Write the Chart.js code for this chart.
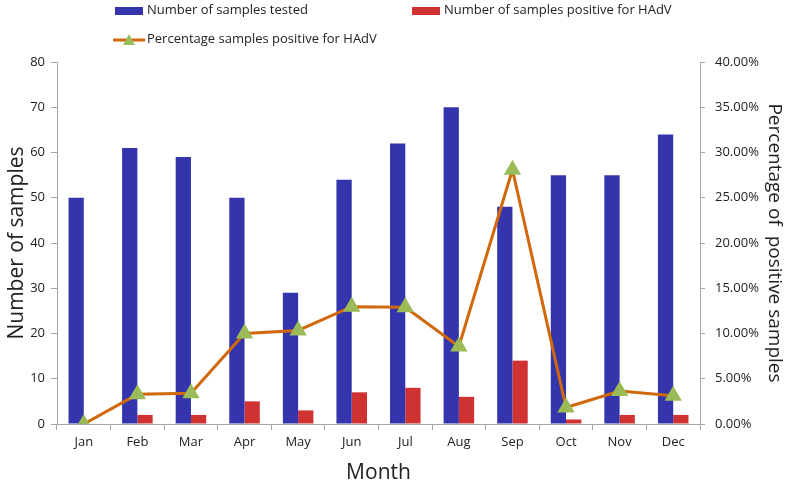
<!DOCTYPE html>
<html lang="en">
<head>
  <meta charset="UTF-8" />
  <title>HAdV samples by month</title>
  <script src="https://cdn.jsdelivr.net/npm/chart.js"></script>
  <style>
    body{margin:0;background:#fff;font-family:"Open Sans",sans-serif;}
    #wrap{position:relative;width:800px;height:490px;}
    .lg{position:absolute;font-size:13px;color:#222;white-space:nowrap;line-height:16px;}
    .sw{display:inline-block;width:28px;height:8px;vertical-align:middle;margin-right:4px;}
  </style>
</head>
<body>
<div id="wrap">
  <div class="lg" style="left:115px;top:1px"><span class="sw" style="background:#3434ad"></span>Number of samples tested</div>
  <div class="lg" style="left:412px;top:1px"><span class="sw" style="background:#d03232"></span>Number of samples positive for HAdV</div>
  <div class="lg" style="left:113px;top:30px">
    <svg width="32" height="14" style="vertical-align:middle;margin-right:2px"><line x1="0" y1="7" x2="32" y2="7" stroke="#d0680c" stroke-width="3"/><polygon points="16,1 22,12 10,12" fill="#9bbb59"/></svg>Percentage samples positive for HAdV</div>
  <canvas id="chart" width="800" height="490"></canvas>
</div>
<script>
const months = ['Jan','Feb','Mar','Apr','May','Jun','Jul','Aug','Sep','Oct','Nov','Dec'];
const tested = [50, 61, 59, 50, 29, 54, 62, 70, 48, 55, 55, 64];
const positive = [0, 2, 2, 5, 3, 7, 8, 6, 14, 1, 2, 2];
const percent = [0, 3.28, 3.39, 10.0, 10.34, 12.96, 12.90, 8.57, 28.1, 1.82, 3.64, 3.13];

const tickFont = {family: 'Open Sans', size: 13};
const axisGrey = '#a6a6a6';

new Chart(document.getElementById('chart'), {
  data: {
    labels: months,
    datasets: [
      {type: 'line', label: 'Percentage samples positive for HAdV', data: percent, yAxisID: 'y1',
       borderColor: '#d0680c', borderWidth: 3, tension: 0, pointStyle: 'triangle',
       pointRadius: 7, pointBackgroundColor: '#9bbb59', pointBorderColor: '#9bbb59', order: 0},
      {type: 'bar', label: 'Number of samples tested', data: tested, yAxisID: 'y',
       backgroundColor: '#3434ad', barPercentage: 1, categoryPercentage: 0.57, order: 1},
      {type: 'bar', label: 'Number of samples positive for HAdV', data: positive, yAxisID: 'y',
       backgroundColor: '#d03232', barPercentage: 1, categoryPercentage: 0.57, order: 1}
    ]
  },
  options: {
    responsive: false,
    animation: false,
    layout: {padding: {top: 62, left: 0, right: 0, bottom: 0}},
    plugins: {legend: {display: false}, tooltip: {enabled: false}},
    scales: {
      x: {
        grid: {display: true, offset: true, drawOnChartArea: false, drawTicks: true, tickLength: 6, color: axisGrey},
        border: {color: axisGrey},
        ticks: {font: tickFont, color: '#222', padding: 4},
        title: {display: true, text: 'Month', font: {family: 'Open Sans', size: 21}, color: '#222', padding: {top: 14}},
        afterFit: s => { s.height = 66; }
      },
      y: {
        position: 'left', min: 0, max: 80,
        ticks: {stepSize: 10, font: tickFont, color: '#222', padding: 6},
        grid: {drawOnChartArea: false, drawTicks: true, tickLength: 6, color: axisGrey},
        border: {color: axisGrey},
        title: {display: true, text: 'Number of samples', font: {family: 'Open Sans', size: 21}, color: '#222', padding: {bottom: 0}},
        afterFit: s => { s.width = 57; }
      },
      y1: {
        position: 'right', min: 0, max: 40,
        ticks: {stepSize: 5, font: tickFont, color: '#222', padding: 10, callback: v => v.toFixed(2) + '%'},
        grid: {drawOnChartArea: false, drawTicks: true, tickLength: 5, color: axisGrey},
        border: {color: axisGrey},
        title: {display: true, text: 'Percentage of  positive samples', font: {family: 'Open Sans', size: 19}, color: '#222', padding: {top: 14}},
        afterFit: s => { s.width = 100; }
      }
    }
  }
});
</script>
</body>
</html>
